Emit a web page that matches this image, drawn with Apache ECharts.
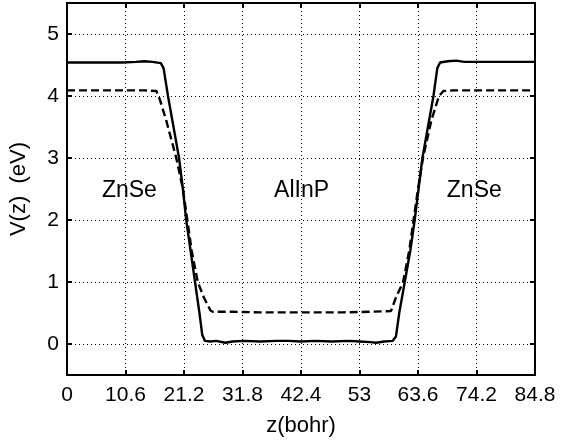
<!DOCTYPE html>
<html><head><meta charset="utf-8">
<script src="https://cdn.jsdelivr.net/npm/echarts@6/dist/echarts.min.js"></script>
<style>html,body{margin:0;padding:0;background:#fff}#c{width:571px;height:443px}</style>
</head><body><div id="c"></div>
<script>
// z (bohr) tick labels and V ticks
const xTickLabels = ['0','10.6','21.2','31.8','42.4','53','63.6','74.2','84.8'];
const yTicks = [0,1,2,3,4,5];

// Solid curve: [z, V]
const solidZ = [0,5,10,12.5,14,15.5,17.0,17.5,18.3,19.3,20.3,21.0,21.6,22.4,23.2,24.0,24.5,25.0,26,27,28.7,30,32,35,38,40,42.4,45,48,51,53,55,56,57.5,59.0,59.6,60.2,61.2,62.2,63.0,63.7,64.4,65.4,66.4,67.1,67.6,69,70.5,72,75,84.8];
const solidV = [4.54,4.54,4.54,4.55,4.56,4.55,4.53,4.45,4.0,3.5,3.0,2.5,2.0,1.5,1.0,0.5,0.15,0.05,0.04,0.05,0.02,0.04,0.05,0.04,0.05,0.05,0.04,0.05,0.04,0.05,0.04,0.03,0.02,0.04,0.05,0.12,0.5,1.0,1.5,2.0,2.5,3.0,3.5,4.0,4.45,4.54,4.56,4.57,4.55,4.55,4.55];

// Dashed curve: [z, V]
const dashZ = [0,5,10,14,16.2,16.8,18.0,19.8,21.0,21.8,22.6,23.7,24.8,26.0,26.4,30,35,42.4,50,55,58.7,59.6,60.9,62.0,62.8,63.6,64.5,66.0,67.4,68.2,70,84.8];
const dashV = [4.09,4.09,4.09,4.09,4.08,3.95,3.6,3.0,2.5,2.0,1.5,1.0,0.75,0.54,0.52,0.52,0.51,0.51,0.51,0.52,0.53,0.75,1.0,1.5,2.0,2.5,3.0,3.6,4.0,4.08,4.09,4.09];

// Region labels
const regionNames = ['ZnSe','AlInP','ZnSe'];
const regionZ = [11.3, 42.5, 73.8];
const regionV = [2.47, 2.47, 2.47];

const solidData = solidZ.map((z,i)=>[z, solidV[i]]);
const dashData = dashZ.map((z,i)=>[z, dashV[i]]);
const labelData = regionNames.map((n,i)=>({value:[regionZ[i], regionV[i]], name:n}));

const font = 'Liberation Sans, Arial, Helvetica, sans-serif';
const fmtX = v => { const s = (+v.toFixed(1)).toString(); return xTickLabels.includes(s) ? s : ''; };

const split = {show:true, lineStyle:{color:'#000', width:1, type:[1,3]}};
const line = {show:true, onZero:false, lineStyle:{color:'#000', width:2}};
const tick = {show:true, inside:true, length:5, lineStyle:{color:'#000', width:2}};
const yTick = Object.assign({}, tick, {customValues:yTicks});

const chart = echarts.init(document.getElementById('c'), null, {renderer:'canvas'});
chart.setOption({
  animation:false,
  backgroundColor:'#fff',
  grid: {left:63, right:36, top:3, bottom:68},
  xAxis:[
    {type:'value', min:0, max:84.8, interval:10.6, axisLine:line, axisTick:tick, splitLine:split,
     axisLabel:{color:'#000', fontFamily:font, fontSize:21, margin:10, formatter:fmtX},
     name:'z(bohr)', nameLocation:'middle', nameGap:40, nameTextStyle:{color:'#000', fontFamily:font, fontSize:22}},
    {type:'value', position:'top', min:0, max:84.8, interval:10.6, axisLine:line, axisTick:tick, splitLine:{show:false}, axisLabel:{show:false}}
  ],
  yAxis:[
    {type:'value', min:-0.5, max:5.5, axisLine:line, axisTick:yTick, splitLine:split,
     axisLabel:{color:'#000', fontFamily:font, fontSize:21, margin:8, customValues:yTicks},
     name:'V(z)  (eV)', nameLocation:'middle', nameGap:37, nameRotate:90, nameTextStyle:{color:'#000', fontFamily:font, fontSize:22}},
    {type:'value', position:'right', min:-0.5, max:5.5, axisLine:line, axisTick:yTick, splitLine:{show:false}, axisLabel:{show:false}}
  ],
  series:[
    {type:'line', data:solidData, showSymbol:false, xAxisIndex:0, yAxisIndex:0, lineStyle:{color:'#000', width:2.4}},
    {type:'line', data:dashData, showSymbol:false, xAxisIndex:0, yAxisIndex:0, lineStyle:{color:'#000', width:2.4, type:[8,4]}},
    {type:'scatter', data:labelData, symbolSize:0, xAxisIndex:0, yAxisIndex:0, silent:true,
     itemStyle:{opacity:1, color:'#000'},
     label:{show:true, position:'inside', formatter:p=>p.name, color:'#000', textBorderWidth:0, textBorderColor:'transparent', fontFamily:font, fontSize:23}}
  ]
});
</script></body></html>
